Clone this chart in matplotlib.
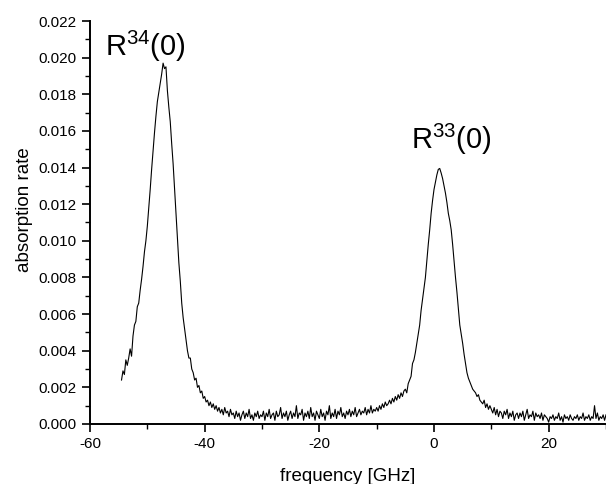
"""
吸收谱 R^34(0) / R^33(0) 重绘 - matplotlib
"""

import numpy as np
import matplotlib
matplotlib.use('Agg')
import matplotlib.pyplot as plt
from matplotlib.ticker import MultipleLocator, FormatStrFormatter

plt.rcParams['font.family'] = ['Liberation Sans', 'DejaVu Sans']
plt.rcParams['mathtext.fontset'] = 'custom'
plt.rcParams['mathtext.rm'] = 'Liberation Sans'
plt.rcParams['axes.unicode_minus'] = False

# 频率起点和步长 (GHz)
freq_start = -54.5
freq_step = 0.25

# 吸收率 (单位 1e-3)，从图上逐段读取
absorption_milli = [
    # -54.5 .. -50.25
    2.4, 2.9, 2.7, 3.5, 3.2, 3.6, 4.1, 3.7, 4.8, 5.4, 5.6, 6.4, 6.6, 7.3, 7.9, 8.6, 9.4, 10.0,
    # -50.0 .. -45.25
    10.8, 11.8, 12.8, 13.9, 14.9, 15.9, 16.8, 17.6, 18.1, 18.6,
    19.1, 19.7, 19.4, 19.5, 18.2, 17.3, 16.5, 15.3, 14.2, 12.9,
    # -45.0 .. -40.25
    11.5, 10.1, 8.8, 7.8, 6.6, 5.8, 5.2, 4.6, 4.0, 3.6,
    3.6, 3.0, 2.8, 2.4, 2.5, 2.0, 2.1, 1.7, 1.8, 1.4,
    # -40.0 .. -35.25
    1.5, 1.2, 1.3, 1.0, 1.2, 0.9, 1.1, 0.8, 1.0, 0.7,
    0.9, 0.6, 0.8, 0.5, 0.9, 0.6, 0.7, 0.4, 0.8, 0.5,
    # -35.0 .. -30.25
    0.6, 0.3, 0.7, 0.4, 0.6, 0.2, 0.5, 0.7, 0.3, 0.6,
    0.4, 0.8, 0.3, 0.5, 0.2, 0.6, 0.4, 0.7, 0.3, 0.5,
    # -30.0 .. -25.25
    0.4, 0.7, 0.2, 0.6, 0.4, 0.8, 0.3, 0.5, 0.6, 0.2,
    0.7, 0.4, 0.5, 0.9, 0.3, 0.6, 0.4, 0.7, 0.2, 0.5,
    # -25.0 .. -20.25
    0.7, 0.3, 0.6, 0.4, 1.0, 0.3, 0.6, 0.5, 0.8, 0.2,
    0.6, 0.4, 0.7, 0.3, 0.9, 0.4, 0.6, 0.2, 0.7, 0.5,
    # -20.0 .. -15.25
    0.3, 0.8, 0.4, 0.6, 0.2, 0.7, 0.5, 1.0, 0.3, 0.6,
    0.4, 0.8, 0.3, 0.7, 0.5, 0.9, 0.4, 0.6, 0.3, 0.7,
    # -15.0 .. -10.25
    0.5, 0.8, 0.4, 0.7, 0.5, 0.9, 0.4, 0.6, 0.8, 0.5,
    0.7, 0.6, 0.9, 0.5, 0.8, 0.6, 1.0, 0.6, 0.8, 0.7,
    # -10.0 .. -5.25
    0.9, 0.7, 1.0, 0.8, 1.1, 0.9, 1.2, 1.0, 1.1, 1.3,
    1.1, 1.4, 1.2, 1.5, 1.3, 1.6, 1.4, 1.7, 1.5, 1.8,
    # -5.0 .. -0.25
    1.9, 1.7, 2.2, 2.4, 2.6, 3.3, 3.5, 3.9, 4.4, 4.9,
    5.4, 6.2, 6.8, 7.4, 8.0, 8.9, 9.8, 10.6, 11.5, 12.2,
    # 0.0 .. 4.75
    12.8, 13.2, 13.6, 13.9, 13.95, 13.7, 13.4, 13.0, 12.6, 12.1,
    11.5, 11.1, 10.6, 9.8, 8.9, 8.0, 7.2, 6.3, 5.4, 4.9,
    # 5.0 .. 9.75
    4.4, 3.8, 3.3, 2.8, 2.5, 2.3, 2.1, 1.9, 1.8, 1.7,
    1.5, 1.6, 1.3, 1.2, 1.1, 1.3, 0.9, 1.1, 0.8, 1.0,
    # 10.0 .. 14.75
    0.8, 0.6, 0.9, 0.5, 0.8, 0.4, 0.7, 0.6, 0.3, 0.7,
    0.5, 0.8, 0.3, 0.6, 0.4, 0.7, 0.2, 0.5, 0.6, 0.3,
    # 15.0 .. 19.75
    0.6, 0.4, 0.7, 0.2, 0.5, 0.8, 0.3, 0.5, 0.4, 0.7,
    0.2, 0.6, 0.4, 0.5, 0.3, 0.6, 0.2, 0.5, 0.4, 0.3,
    # 20.0 .. 24.75
    0.1, 0.4, 0.3, 0.5, 0.2, 0.4, 0.3, 0.6, 0.2, 0.4,
    0.1, 0.5, 0.3, 0.4, 0.2, 0.5, 0.3, 0.2, 0.4, 0.3,
    # 25.0 .. 30.0
    0.5, 0.2, 0.4, 0.3, 0.6, 0.2, 0.4, 0.3, 0.5, 0.2,
    0.4, 0.3, 1.0, 0.3, 0.6, 0.2, 0.4, 0.3, 0.5, 0.2, 0.5,
]

x_ticks = [-60, -40, -20, 0, 20]
peak_labels = [r'$\mathregular{R^{34}(0)}$', r'$\mathregular{R^{33}(0)}$']

absorption = np.array(absorption_milli) / 1000.0
freq = freq_start + freq_step * np.arange(len(absorption))

fig = plt.figure(figsize=(6.06, 4.84), dpi=100)
ax = fig.add_axes([0.1485, 0.124, 0.8515, 0.8326])

ax.plot(freq, absorption, color='black', linewidth=0.8)

ax.set_xlim(-60, 30)
ax.set_ylim(0, 0.022)
ax.set_xticks(x_ticks)
ax.xaxis.set_minor_locator(MultipleLocator(10))
ax.yaxis.set_major_locator(MultipleLocator(0.002))
ax.yaxis.set_minor_locator(MultipleLocator(0.001))
ax.yaxis.set_major_formatter(FormatStrFormatter('%.3f'))

for side in ['top', 'right']:
    ax.spines[side].set_visible(False)
for side in ['left', 'bottom']:
    ax.spines[side].set_linewidth(1.4)

ax.tick_params(which='major', direction='out', length=6, width=1.2, labelsize=11)
ax.tick_params(which='minor', direction='out', length=3.5, width=1.0)

ax.set_xlabel('frequency [GHz]', fontsize=13.5, labelpad=12)
ax.set_ylabel('absorption rate', fontsize=13.5)
ax.yaxis.set_label_coords(-0.110, 0.531)

# 峰标注
ax.text(-57.4, 0.0201, peak_labels[0], fontsize=21, va='baseline', ha='left')
ax.text(-4.0, 0.0150, peak_labels[1], fontsize=21, va='baseline', ha='left')

plt.savefig('out.png', dpi=100, facecolor='white')
plt.close()
